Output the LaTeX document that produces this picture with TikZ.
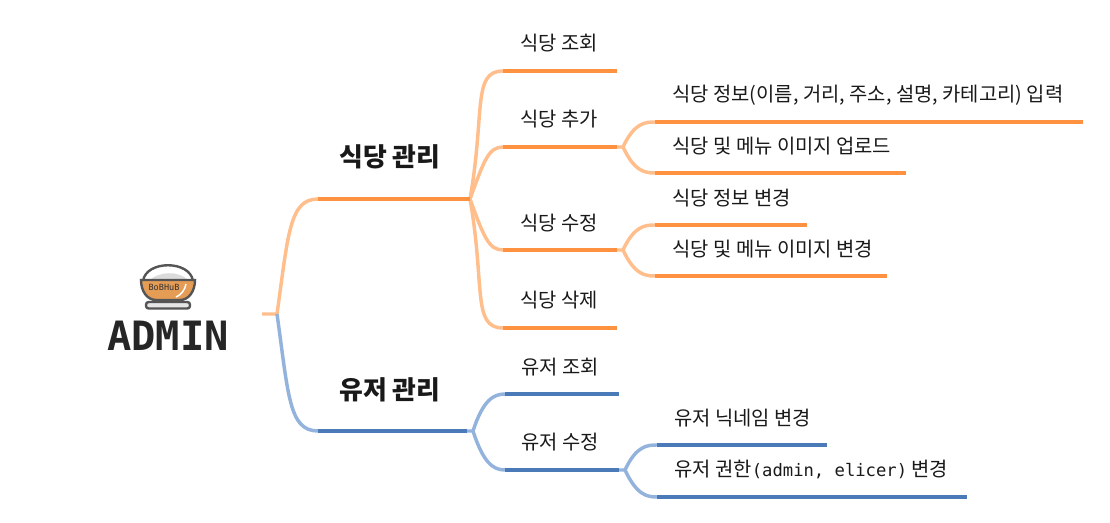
\documentclass[tikz,border=0pt]{standalone}
\usepackage{fontspec}
\setmainfont{Noto Sans CJK KR}
\newfontfamily\monofont{DejaVu Sans Mono}
\usepackage{xcolor}
\usetikzlibrary{positioning}
\definecolor{orangeline}{HTML}{FF9240}
\definecolor{orangefork}{HTML}{FFBE8C}
\definecolor{blueline}{HTML}{4A7AB8}
\definecolor{bluefork}{HTML}{93B3DC}
\definecolor{bowlfill}{HTML}{E59C55}
\definecolor{bowlline}{HTML}{555555}
\tikzset{
  item/.style={inner sep=0pt, font=\fontsize{14.9pt}{16pt}\selectfont, text=black!90},
  subitem/.style={item, anchor=west},
  head/.style={inner sep=0pt, font=\fontsize{19.4pt}{20pt}\selectfont\bfseries, text=black!90},
  obar/.style={line width=2.6pt, draw=orangeline},
  ofork/.style={line width=2.6pt, draw=orangefork},
  bbar/.style={line width=2.6pt, draw=blueline},
  bfork/.style={line width=2.6pt, draw=bluefork},
  sweep/.style={out looseness=1.7, in looseness=.6},
}
\begin{document}
\begin{tikzpicture}[x=0.75pt,y=-0.75pt]
    \useasboundingbox (0,0) rectangle (1110,523);

    % bowl
    \draw[line width=1.8pt, draw=bowlline, fill=black!10, rounded corners=2pt] (146,302) rectangle (190,308.5);
    \draw[line width=1.8pt, draw=bowlline, fill=white] (143,281) .. controls (146,260) and (190,260) .. (193,281) -- cycle;
    \fill[black!14] (150,280) .. controls (158,272) and (178,270) .. (188,280) -- cycle;
    \draw[line width=1.8pt, draw=bowlline, fill=bowlfill] (141,280) -- (195,280) .. controls (195,291) and (189,300) .. (180,300)
      -- (156,300) .. controls (147,300) and (141,291) .. (141,280) -- cycle;
    \draw[line width=1.1pt, white] (186,284) .. controls (185,290) and (181,295) .. (176,297);
    \node[inner sep=0pt, font=\fontsize{6.4pt}{7pt}\monofont, text=black!80] (brand) at (164,287) {BoBHuB};
    \node[inner sep=0pt, font=\fontsize{30.3pt}{31pt}\monofont\bfseries, text=black!85] (admin) at (168,336) {ADMIN};

    % anchors of the bars
    \coordinate (root) at (262,314);
    \coordinate (rootend) at (277,314);
    \coordinate (mgrA) at (318,199);
    \coordinate (mgrAend) at (470,199);
    \coordinate (mgrB) at (318,431);
    \coordinate (mgrBend) at (467,431);
    \coordinate (mgrBfork) at (473,431);

    \coordinate (viewA) at (503,71);   \coordinate (viewAend) at (617,71);
    \coordinate (addA) at (503,147);   \coordinate (addAend) at (617,147);
    \coordinate (addAfork) at (623,147);
    \coordinate (editA) at (503,250);  \coordinate (editAend) at (617,250);
    \coordinate (editAfork) at (623,250);
    \coordinate (delA) at (503,328);   \coordinate (delAend) at (617,328);
    \coordinate (viewB) at (505,394);  \coordinate (viewBend) at (619,394);
    \coordinate (editB) at (505,470);  \coordinate (editBend) at (619,470);
    \coordinate (editBfork) at (625,470);

    \coordinate (addinfo) at (655,122);  \coordinate (addinfoend) at (1083,122);
    \coordinate (addimg) at (655,173);   \coordinate (addimgend) at (906,173);
    \coordinate (chginfo) at (655,225);  \coordinate (chginfoend) at (807,225);
    \coordinate (chgimg) at (655,276);   \coordinate (chgimgend) at (887,276);
    \coordinate (nick) at (657,445);     \coordinate (nickend) at (827,445);
    \coordinate (role) at (657,497);     \coordinate (roleend) at (967,497);

    % forks
    \draw[ofork] (root) -- (rootend) to[out=82,in=180,sweep] (mgrA);
    \draw[bfork] (rootend) to[out=-82,in=180,sweep] (mgrB);
    \draw[ofork] (mgrAend) to[out=80,in=180,sweep] (viewA);
    \draw[ofork] (mgrAend) to[out=70,in=180,sweep] (addA);
    \draw[ofork] (mgrAend) to[out=-70,in=180,sweep] (editA);
    \draw[ofork] (mgrAend) to[out=-80,in=180,sweep] (delA);
    \draw[bfork] (mgrBend) -- (mgrBfork) to[out=72,in=180,sweep] (viewB);
    \draw[bfork] (mgrBfork) to[out=-72,in=180,sweep] (editB);
    \draw[ofork] (addAend) -- (addAfork) to[out=65,in=180,sweep] (addinfo);
    \draw[ofork] (addAfork) to[out=-65,in=180,sweep] (addimg);
    \draw[ofork] (editAend) -- (editAfork) to[out=65,in=180,sweep] (chginfo);
    \draw[ofork] (editAfork) to[out=-65,in=180,sweep] (chgimg);
    \draw[bfork] (editBend) -- (editBfork) to[out=65,in=180,sweep] (nick);
    \draw[bfork] (editBfork) to[out=-65,in=180,sweep] (role);

    % bars
    \draw[obar] (mgrA) -- (mgrAend);
    \draw[obar] (viewA) -- (viewAend);
    \draw[obar] (addA) -- (addAend);
    \draw[obar] (editA) -- (editAend);
    \draw[obar] (delA) -- (delAend);
    \draw[obar] (addinfo) -- (addinfoend);
    \draw[obar] (addimg) -- (addimgend);
    \draw[obar] (chginfo) -- (chginfoend);
    \draw[obar] (chgimg) -- (chgimgend);
    \draw[bbar] (mgrB) -- (mgrBend);
    \draw[bbar] (viewB) -- (viewBend);
    \draw[bbar] (editB) -- (editBend);
    \draw[bbar] (nick) -- (nickend);
    \draw[bbar] (role) -- (roleend);

    % labels
    \node[head] (mgrAtxt) at (390,157) {식당 관리};
    \node[head] (mgrBtxt) at (390,390) {유저 관리};
    \node[item] (viewAtxt) at (559,43) {식당 조회};
    \node[item] (addAtxt) at (559,119) {식당 추가};
    \node[item] (editAtxt) at (559,223) {식당 수정};
    \node[item] (delAtxt) at (559,300) {식당 삭제};
    \node[item] (viewBtxt) at (560,367) {유저 조회};
    \node[item] (editBtxt) at (560,442) {유저 수정};
    \node[subitem] (addinfotxt) at (672,95) {식당 정보(이름, 거리, 주소, 설명, 카테고리) 입력};
    \node[subitem] (addimgtxt) at (672,146) {식당 및 메뉴 이미지 업로드};
    \node[subitem] (chginfotxt) at (672,198) {식당 정보 변경};
    \node[subitem] (chgimgtxt) at (672,249) {식당 및 메뉴 이미지 변경};
    \node[subitem] (nicktxt) at (674,418) {유저 닉네임 변경};
    \node[subitem] (roletxt) at (674,469) {유저 권한{\fontsize{12.9pt}{14pt}\monofont (admin, elicer)} 변경};
\end{tikzpicture}
\end{document}
